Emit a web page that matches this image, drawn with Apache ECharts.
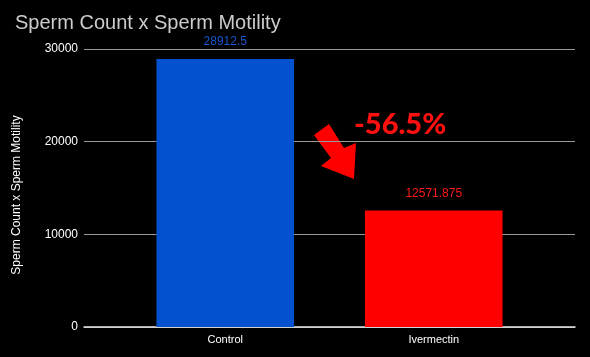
<!DOCTYPE html>
<html><head><meta charset="utf-8">
<script src="https://cdn.jsdelivr.net/npm/echarts@6/dist/echarts.min.js"></script>
<style>html,body{margin:0;padding:0;background:#000;}#c{width:590px;height:357px;}</style>
</head><body><div id="c"></div>
<script>
const categories = ['Control', 'Ivermectin'];
const values = [28912.5, 12571.875];
const barColors = ['#0351cf', '#ff0000'];
const labelColors = ['#1a56d0', '#ff1a1a'];
const yTicks = [0, 10000, 20000, 30000];
const changeText = '-56.5%';

const chart = echarts.init(document.getElementById('c'), null, {renderer: 'canvas'});
chart.setOption({
  backgroundColor: '#000',
  animation: false,
  title: {
    text: 'Sperm Count x Sperm Motility',
    left: 10, top: 8,
    textStyle: {color: '#cccccc', fontSize: 20, fontWeight: 'normal', fontFamily: 'Liberation Sans'}
  },
  grid: [
    {left: 84, right: 15, top: 49, bottom: 30, containLabel: false},
    {left: 121, right: 52, top: 49, bottom: 30, containLabel: false}
  ],
  xAxis: [
    {type: 'category', gridIndex: 0, data: [''], axisLine: {lineStyle: {color: '#e6e6e6', width: 1.5}}, axisTick: {show: false}, axisLabel: {show: false}},
    {type: 'category', gridIndex: 1, data: categories, axisLine: {show: false}, axisTick: {show: false},
     axisLabel: {color: '#ffffff', fontSize: 11, fontFamily: 'Liberation Sans', margin: 7}}
  ],
  yAxis: [
    {type: 'value', gridIndex: 0, min: yTicks[0], max: yTicks[yTicks.length - 1], interval: 10000,
     axisLine: {show: false}, axisTick: {show: false},
     axisLabel: {color: '#ffffff', fontSize: 12, fontFamily: 'Liberation Sans', margin: 6, formatter: v => String(v)},
     splitLine: {lineStyle: {color: '#9a9a9a', width: 1}},
     name: 'Sperm Count x Sperm Motility', nameLocation: 'middle', nameGap: 61, nameRotate: 90,
     nameTextStyle: {color: '#ffffff', fontSize: 12, fontFamily: 'Liberation Sans', padding: [0, 14, 0, 0]}},
    {type: 'value', gridIndex: 1, min: yTicks[0], max: yTicks[yTicks.length - 1], interval: 10000, show: false, splitLine: {show: false}}
  ],
  series: [{
    type: 'bar', xAxisIndex: 1, yAxisIndex: 1,
    barWidth: '66%',
    data: values.map((v, i) => ({value: v, itemStyle: {color: barColors[i]},
      label: {color: labelColors[i]}})),
    label: {show: true, position: 'top', distance: 11, fontSize: 12, fontFamily: 'Liberation Sans'}
  }],
  graphic: [
    {type: 'text', left: 354, top: 110, style: {text: changeText, fill: '#ff1010', font: '900 29px Lato'}},
    {type: 'polygon', shape: {points: [[329,124],[344,148],[356,143],[354,179],[321,166],[331,158],[314,135]]}, style: {fill: '#ff0000'}}
  ]
});
</script></body></html>
